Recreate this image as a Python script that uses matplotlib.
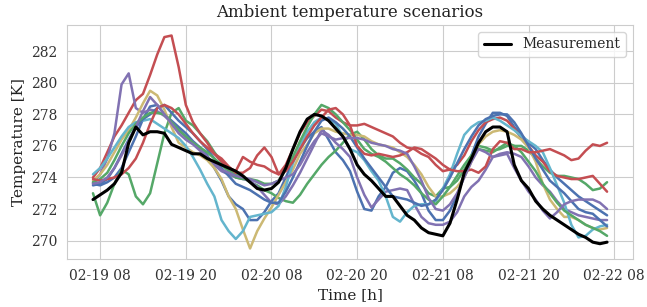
import matplotlib
matplotlib.use("Agg")
import matplotlib.pyplot as plt
import matplotlib.dates as mdates
import seaborn as sns
import pandas as pd

# hourly values from 02-19 07:00 to 02-22 07:00
blue1 = [273.6, 273.5, 273.7, 274.0, 274.6, 275.6, 276.6, 277.7, 278.5, 278.6, 278.0, 277.6,
         277.2, 276.8, 276.3, 275.9, 275.4, 274.6, 273.8, 272.8, 272.3, 272.0, 271.3, 271.3,
         271.8, 272.5, 273.0, 274.0, 275.0, 275.8, 276.5, 276.9, 277.2, 276.4, 275.6, 275.1,
         274.4, 273.1, 272.0, 271.9, 272.8, 273.4, 274.3, 274.6, 274.4, 273.8, 273.0, 271.9,
         271.3, 271.3, 271.9, 272.9, 274.1, 275.4, 276.6, 277.4, 278.1, 278.1, 277.9, 277.2,
         276.7, 276.2, 275.8, 275.1, 274.5, 274.0, 273.6, 273.2, 272.8, 272.5, 272.2, 271.9,
         271.6]
green1 = [273.0, 271.6, 272.4, 273.6, 274.5, 274.2, 272.8, 272.3, 273.0, 274.9, 276.8, 278.1,
          278.4, 277.6, 277.3, 276.8, 276.3, 275.6, 275.0, 274.5, 274.2, 274.0, 273.7, 273.5,
          273.2, 273.0, 272.7, 272.5, 272.4, 272.9, 273.6, 274.2, 274.8, 275.3, 275.7, 276.2,
          276.7, 276.9, 276.4, 275.8, 275.4, 275.2, 275.2, 274.9, 274.5, 274.0, 273.6, 273.0,
          272.8, 273.3, 273.4, 273.8, 274.5, 275.3, 276.0, 275.9, 275.7, 275.8, 276.0, 276.0,
          276.0, 275.7, 275.2, 274.7, 274.3, 274.1, 274.1, 274.0, 273.9, 273.6, 273.2, 273.3,
          273.7]
red1 = [274.0, 274.6, 275.6, 276.6, 277.3, 278.1, 278.9, 279.3, 280.5, 281.8, 282.9, 283.0,
        281.0, 278.6, 277.5, 276.8, 276.2, 275.5, 275.0, 274.6, 274.4, 275.3, 275.0, 274.8,
        274.7, 274.4, 274.2, 274.8, 275.8, 276.8, 277.5, 277.9, 278.3, 278.2, 277.8, 277.5,
        277.3, 277.3, 277.4, 277.2, 277.0, 276.8, 276.6, 276.2, 275.9, 275.8, 275.5, 275.3,
        274.8, 274.4, 274.5, 274.8, 275.4, 276.3, 277.0, 277.5, 277.7, 277.8, 277.6, 277.1,
        276.5, 276.0, 275.4, 275.0, 274.4, 274.1, 274.0, 273.9, 273.9, 274.0, 274.1, 273.6,
        273.1]
purple1 = [273.7, 274.2, 275.2, 276.8, 279.9, 280.6, 278.4, 278.1, 278.3, 278.2, 277.9, 277.5,
           277.0, 276.6, 276.2, 275.8, 275.3, 274.8, 274.4, 274.2, 274.0, 273.9, 273.8, 273.4,
           272.9, 272.4, 272.3, 272.8, 273.5, 274.3, 275.2, 276.1, 277.0, 276.7, 276.2, 275.8,
           275.3, 274.0, 272.9, 272.1, 272.6, 273.1, 273.2, 273.3, 273.2, 272.3, 271.5, 271.1,
           271.0, 271.0, 271.2, 271.8, 272.8, 273.4, 273.8, 274.5, 275.3, 275.5, 275.6, 275.5,
           275.3, 274.7, 274.0, 273.5, 273.1, 272.5, 272.0, 271.8, 271.6, 271.5, 271.4, 271.3,
           271.3]
yellow = [273.8, 274.2, 274.8, 275.6, 276.4, 277.0, 277.8, 278.7, 279.5, 279.2, 278.3, 277.2,
          276.2, 275.9, 275.6, 275.4, 275.1, 274.6, 273.9, 272.8, 272.0, 270.7, 269.5, 270.6,
          271.4, 272.1, 272.9, 273.7, 274.5, 275.5, 276.1, 276.8, 277.1, 277.1, 276.9, 276.8,
          276.7, 276.7, 276.6, 276.3, 276.1, 276.0, 275.9, 275.6, 275.3, 274.8, 274.2, 273.4,
          272.8, 272.8, 273.0, 273.4, 274.0, 275.0, 276.1, 276.6, 276.9, 277.0, 276.9, 276.7,
          276.4, 275.9, 275.0, 273.6, 272.6, 272.0, 271.5, 271.5, 271.3, 271.0, 270.8, 270.7,
          270.8]
cyan = [274.2, 274.6, 275.2, 275.9, 276.6, 277.2, 277.5, 277.6, 277.7, 277.4, 277.1, 276.8,
        276.5, 276.0, 275.3, 274.5, 273.6, 272.8, 271.3, 270.6, 270.1, 270.6, 271.5, 271.6,
        271.7, 271.8, 272.2, 273.4, 274.9, 276.0, 276.9, 277.5, 277.8, 277.7, 277.4, 276.6,
        275.8, 275.6, 275.1, 274.4, 273.8, 272.8, 271.5, 271.2, 271.8, 272.2, 272.3, 272.3,
        272.5, 273.3, 274.2, 275.5, 276.7, 277.2, 277.5, 277.6, 277.8, 277.6, 277.3, 277.0,
        276.6, 276.3, 276.0, 275.6, 274.6, 273.5, 272.4, 271.0, 270.2, 270.3, 270.7, 270.9,
        271.0]
blue2 = [273.5, 273.6, 273.9, 274.6, 275.5, 276.4, 277.2, 277.7, 278.0, 278.4, 278.6, 278.1,
         277.6, 277.2, 276.8, 276.3, 275.8, 275.2, 274.6, 274.1, 273.6, 273.4, 273.2, 272.9,
         272.6, 272.4, 272.4, 273.1, 274.0, 275.0, 276.0, 276.9, 277.6, 277.8, 277.5, 277.1,
         276.6, 275.9, 275.2, 274.6, 274.0, 273.4, 272.8, 272.7, 272.6, 272.4, 272.2, 272.3,
         272.6, 273.2, 274.0, 274.9, 275.8, 276.6, 277.3, 277.7, 277.9, 278.0, 278.0, 277.5,
         276.8, 276.0, 275.2, 274.5, 273.8, 273.4, 273.0, 272.5, 272.0, 271.8, 271.7, 271.3,
         270.9]
green2 = [273.7, 273.9, 274.3, 275.1, 276.0, 276.8, 277.4, 277.8, 278.1, 278.1, 278.0, 277.5,
          277.0, 276.6, 276.2, 275.9, 275.6, 275.2, 274.8, 274.4, 274.0, 273.9, 273.9, 273.8,
          273.6, 273.6, 273.8, 274.5, 275.3, 276.3, 277.2, 278.0, 278.6, 278.4, 278.0, 277.5,
          277.0, 276.4, 275.8, 275.5, 275.3, 275.0, 274.6, 274.2, 273.9, 273.5, 273.0, 272.6,
          272.3, 272.8, 273.4, 274.1, 274.8, 275.4, 275.8, 275.7, 275.6, 275.9, 276.2, 276.0,
          275.6, 275.0, 274.4, 273.6, 273.0, 272.4, 271.9, 271.6, 271.3, 271.0, 270.8, 270.6,
          270.3]
red2 = [273.9, 273.8, 273.9, 274.0, 274.2, 274.6, 275.2, 276.2, 277.4, 278.4, 278.6, 278.4,
        278.0, 277.4, 276.8, 276.3, 275.9, 275.5, 275.2, 274.7, 274.3, 274.3, 274.6, 275.4,
        275.9, 275.3, 274.2, 274.4, 275.0, 275.8, 276.6, 277.3, 277.8, 278.3, 278.4, 278.0,
        277.3, 276.0, 275.5, 275.4, 275.5, 275.4, 275.3, 275.4, 275.6, 275.9, 275.8, 275.5,
        275.2, 274.8, 274.5, 274.4, 274.4, 274.5, 274.3, 274.7, 275.8, 276.3, 276.2, 275.8,
        275.8, 275.6, 275.6, 275.7, 275.8, 275.6, 275.4, 275.1, 275.2, 275.7, 276.1, 276.0,
        276.2]
purple2 = [273.6, 273.7, 274.0, 274.6, 275.4, 276.3, 277.2, 278.2, 279.1, 278.6, 278.0, 277.4,
           276.8, 276.4, 276.1, 275.7, 275.3, 274.9, 274.5, 274.3, 274.1, 274.0, 273.9, 273.7,
           273.5, 273.6, 273.8, 274.0, 274.2, 274.8, 275.6, 276.3, 276.8, 276.6, 276.4, 276.5,
           276.5, 276.5, 276.4, 276.2, 276.1, 276.0, 275.8, 275.7, 275.5, 274.7, 273.8, 272.7,
           272.0, 271.9, 272.3, 273.0, 274.0, 275.0, 275.8, 275.6, 275.3, 275.4, 275.5, 274.6,
           273.8, 273.1, 272.6, 271.9, 271.4, 271.8, 272.3, 272.5, 272.6, 272.6, 272.6, 272.4,
           272.0]
measurement = [272.6, 272.9, 273.2, 273.6, 274.3, 276.2, 277.2, 276.7, 276.9, 276.9, 276.8, 276.1,
               275.9, 275.7, 275.5, 275.5, 275.2, 275.0, 274.8, 274.6, 274.4, 274.1, 273.7, 273.3,
               273.2, 273.3, 273.7, 274.6, 275.8, 276.9, 277.7, 278.0, 277.9, 277.6, 277.1, 276.6,
               275.8, 274.8, 274.2, 273.8, 273.3, 272.8, 272.8, 272.2, 271.6, 271.3, 270.8, 270.5,
               270.4, 270.3, 271.1, 272.6, 274.3, 275.2, 276.2, 276.9, 277.2, 277.2, 276.9, 274.8,
               273.8, 273.3, 272.5, 272.0, 271.6, 271.3, 271.0, 270.7, 270.4, 270.2, 269.9, 269.8,
               269.9]

scenarios = [blue1, green1, red1, purple1, yellow, cyan, blue2, green2, red2, purple2]
palette = ["#4C72B0", "#55A868", "#C44E52", "#8172B2", "#CCB974", "#64B5CD"]


def main():
    sns.set_style("whitegrid")
    plt.rcParams['font.family'] = ['DejaVu Serif']

    t = pd.date_range("2021-02-19 07:00", periods=len(measurement), freq="1h")

    fig, ax = plt.subplots(figsize=(6.47, 3.07), dpi=100)
    fig.subplots_adjust(left=0.104, right=0.978, bottom=0.156, top=0.919)

    for i, s in enumerate(scenarios):
        ax.plot(t, s, color=palette[i % len(palette)], lw=1.8)
    ax.plot(t, measurement, color="black", lw=2.2, label="Measurement")

    ax.xaxis.set_major_locator(mdates.HourLocator(byhour=[8, 20]))
    ax.xaxis.set_major_formatter(mdates.DateFormatter("%m-%d %H"))
    ax.set_yticks([270, 272, 274, 276, 278, 280, 282])
    ax.tick_params(labelsize=10, colors="#333333")

    ax.set_title("Ambient temperature scenarios", fontsize=12, color="#222222")
    ax.set_xlabel("Time [h]", fontsize=11, color="#222222")
    ax.set_ylabel("Temperature [K]", fontsize=11, color="#222222")
    ax.legend(loc="upper right", fontsize=10)

    fig.savefig("out.png", dpi=100)


if __name__ == '__main__':
    main()
